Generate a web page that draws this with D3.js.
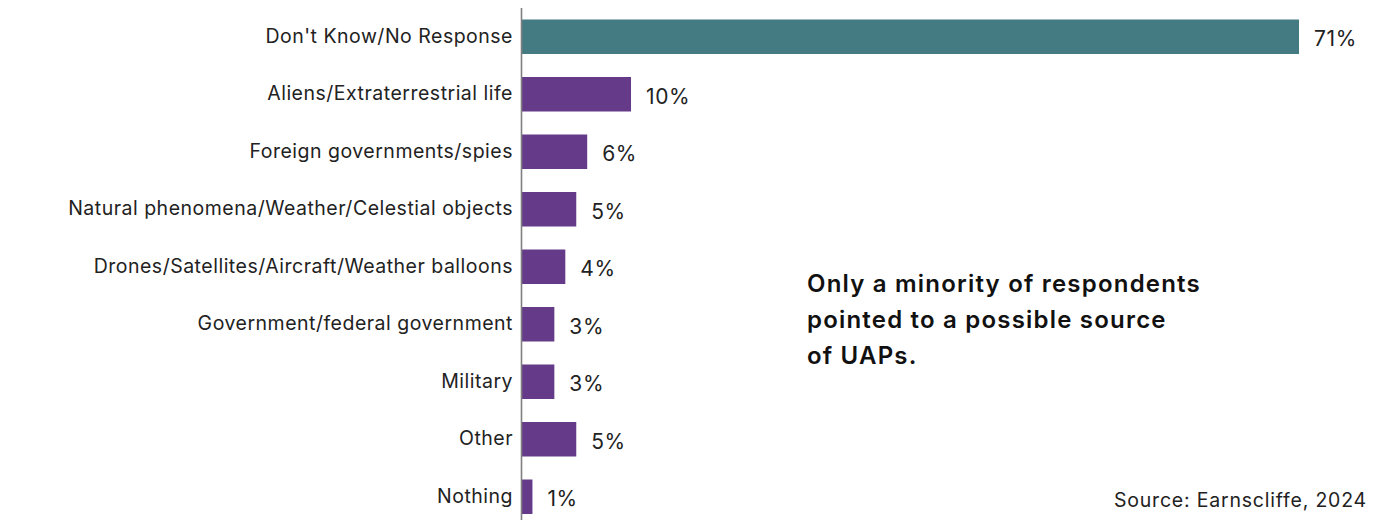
<!DOCTYPE html>
<html><head><meta charset="utf-8">
<script src="https://cdn.jsdelivr.net/npm/d3@7"></script>
<style>html,body{margin:0;padding:0;background:#fff;}svg{display:block;}</style>
</head><body>
<svg id="c" width="1387" height="520"></svg>
<script>
const categories = ["Don't Know/No Response","Aliens/Extraterrestrial life","Foreign governments/spies","Natural phenomena/Weather/Celestial objects","Drones/Satellites/Aircraft/Weather balloons","Government/federal government","Military","Other","Nothing"];
const values = [71,10,6,5,4,3,3,5,1];
const valueLabels = ["71%","10%","6%","5%","4%","3%","3%","5%","1%"];
const annotation = ["Only a minority of respondents","pointed to a possible source","of UAPs."];
const source = "Source: Earnscliffe, 2024";

const svg = d3.select("#c");
const font = "Inter, 'Open Sans', sans-serif";
const x0 = 521.5;
const x = d3.scaleLinear().domain([0,71]).range([x0, 1299]);
const y = d3.scaleBand().domain(categories).range([8, 525.5]).paddingInner(0.4).paddingOuter(0.2);

svg.selectAll("rect.bar").data(categories).join("rect")
  .attr("class","bar")
  .attr("x", x(0))
  .attr("y", d=>y(d))
  .attr("width", (d,i)=>x(values[i])-x(0))
  .attr("height", y.bandwidth())
  .attr("fill", (d,i)=> i===0 ? "#447b83" : "#653a89");

svg.append("line").attr("x1",x0).attr("x2",x0).attr("y1",8).attr("y2",520)
  .attr("stroke","#7f7f7f").attr("stroke-width",1.6);

svg.selectAll("text.cat").data(categories).join("text")
  .attr("class","cat")
  .attr("x", 513).attr("y", d=>y(d)+y.bandwidth()/2-1)
  .attr("dy","0.35em").attr("text-anchor","end")
  .attr("font-family",font).attr("font-size",19.5).attr("letter-spacing",0.5).attr("fill","#222")
  .text(d=>d);

svg.selectAll("text.val").data(categories).join("text")
  .attr("class","val")
  .attr("x", (d,i)=>x(values[i])+15).attr("y", d=>y(d)+y.bandwidth()/2+2)
  .attr("dy","0.35em")
  .attr("font-family",font).attr("font-size",21).attr("letter-spacing",0.6).attr("fill","#222")
  .text((d,i)=>valueLabels[i]);

svg.selectAll("text.ann").data(annotation).join("text")
  .attr("class","ann")
  .attr("x",807).attr("y",(d,i)=>292+i*36)
  .attr("font-family",font).attr("font-size",24).attr("letter-spacing",1.2).attr("font-weight",600).attr("fill","#111")
  .text(d=>d);

svg.append("text").attr("x",1367).attr("y",507).attr("text-anchor","end")
  .attr("font-family",font).attr("font-size",19.5).attr("letter-spacing",0.8).attr("fill","#222").text(source);
</script>
</body></html>
